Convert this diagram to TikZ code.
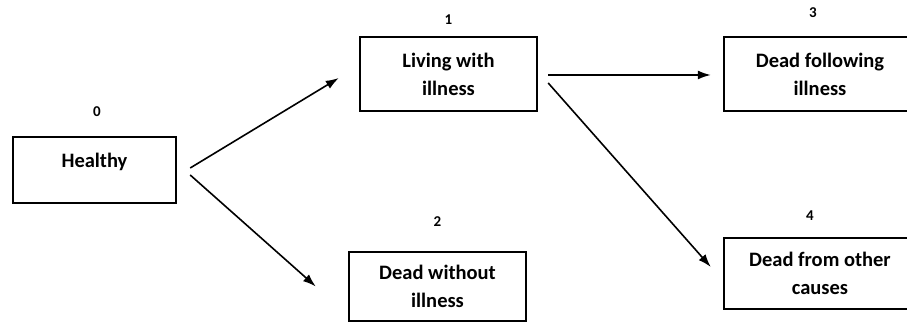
\documentclass[tikz,border=0pt]{standalone}
\usepackage{fontspec}
\setmainfont{Carlito}
\usepackage{tikz}
\usetikzlibrary{positioning, arrows.meta}
\tikzset{
	state/.style={draw, line width=2.4pt, align=center, inner sep=0pt,
		font=\fontsize{20.5}{28}\selectfont\bfseries},
	num/.style={inner sep=0pt, font=\fontsize{15}{17}\selectfont\bfseries},
	trans/.style={-{Latex[length=13pt,width=9pt]}, line width=1.6pt},
}

\begin{document}
\begin{tikzpicture}
	\useasboundingbox (0pt,0pt) rectangle (907pt,323pt);
	% states
	\node[state, minimum width=163pt, minimum height=66pt, text depth=20pt] (healthy) at (94.5pt,153pt) {Healthy};
	\node[state, minimum width=177pt, minimum height=74pt] (living) at (448.5pt,249pt) {Living with\\illness};
	\node[state, minimum width=177pt, minimum height=69pt] (deadwo) at (437.5pt,36.5pt) {Dead without\\illness};
	\node[state, minimum width=192pt, minimum height=74pt] (deadfol) at (820pt,249pt) {Dead following\\illness};
	\node[state, minimum width=192pt, minimum height=71pt] (deadoth) at (820pt,49.5pt) {Dead from other\\causes};

	\node[num, above=19pt of healthy, xshift=2.5pt] (n0) {0};
	\node[num, above=11pt of living] (n1) {1};
	\node[num, above=24pt of deadwo] (n2) {2};
	\node[num, above=18pt of deadfol, xshift=-7pt] (n3) {3};
	\node[num, above=16pt of deadoth, xshift=-10pt] (n4) {4};

	% transitions
	\draw[trans] ([xshift=13pt, yshift=2pt]healthy.east) -- ([xshift=-20pt, yshift=-4pt]living.west);
	\draw[trans] ([xshift=13pt, yshift=-5pt]healthy.east) -- ([xshift=-32pt]deadwo.west);
	\draw[trans] ([xshift=10pt, yshift=-1pt]living.east) -- ([xshift=-12pt, yshift=-1pt]deadfol.west);
	\draw[trans] ([xshift=10pt, yshift=-9pt]living.east) -- ([xshift=-12pt, yshift=6.5pt]deadoth.west);
\end{tikzpicture}
\end{document}
